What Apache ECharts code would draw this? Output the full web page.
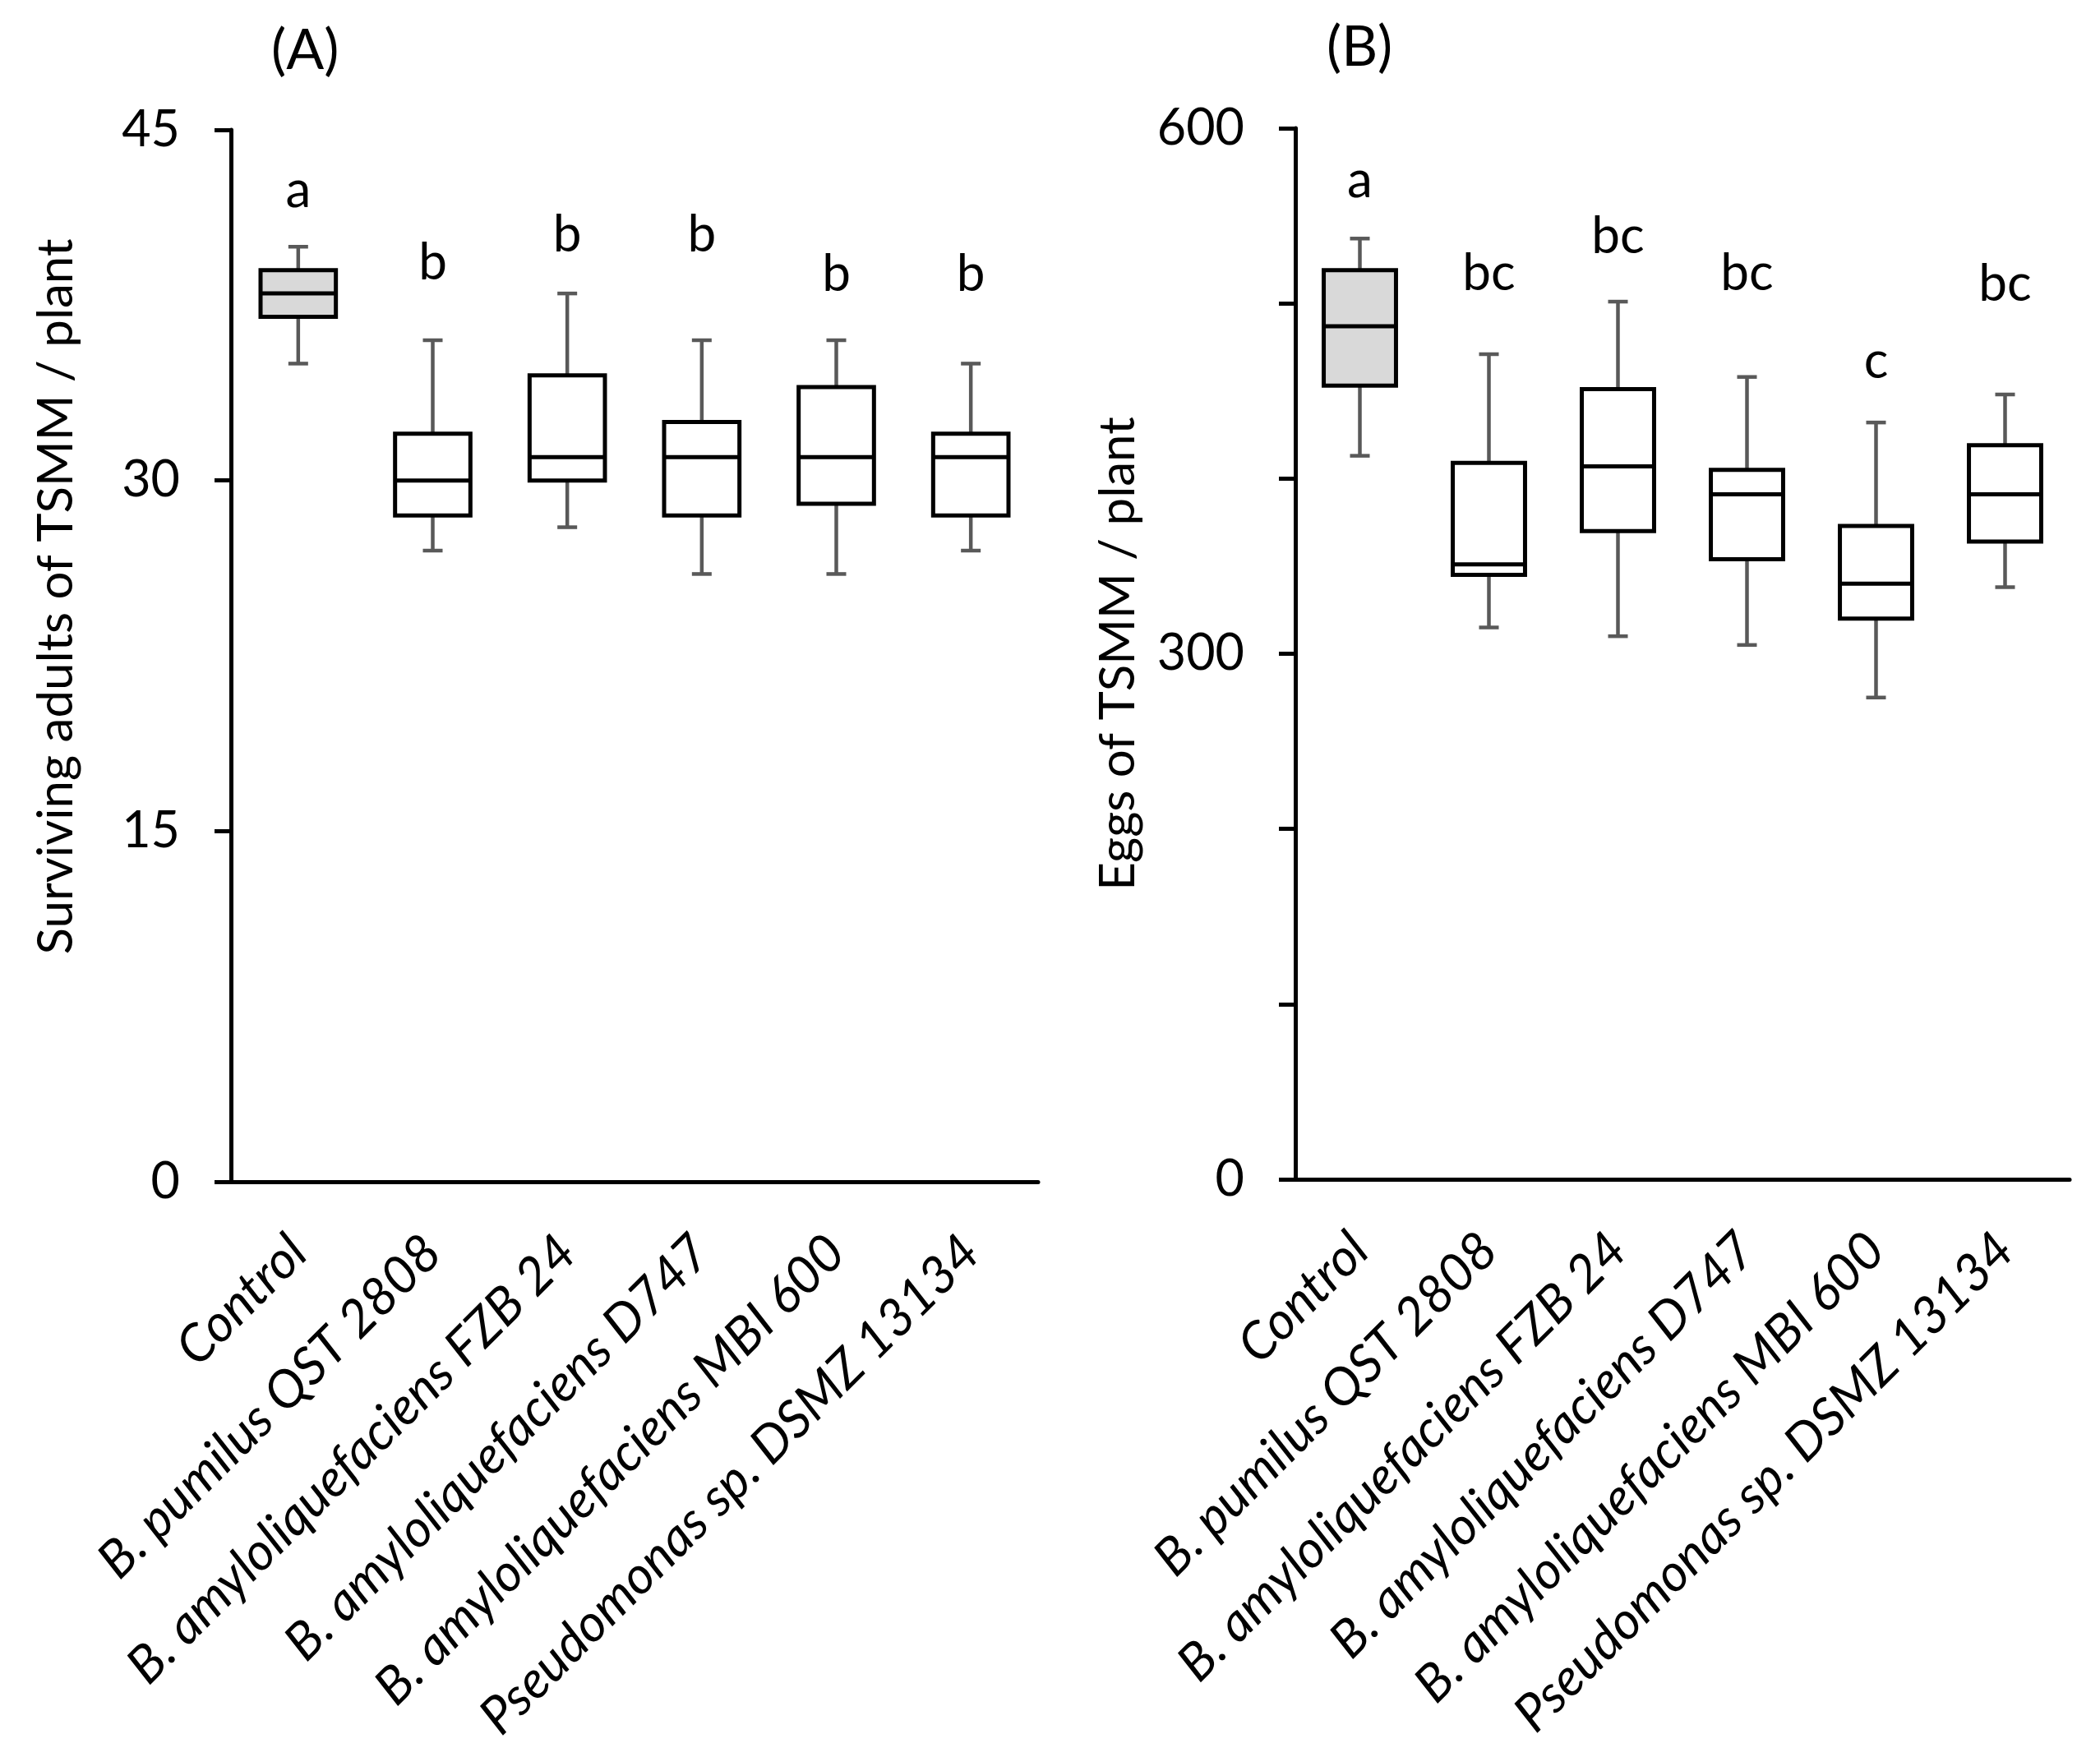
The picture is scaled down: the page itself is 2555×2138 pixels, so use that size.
<!doctype html>
<html lang="en">
<head>
    <meta charset="utf-8">
    <title>TSMM box plots</title>
    <style>
        html, body { margin: 0; padding: 0; background: #fff; }
        #main { width: 2555px; height: 2138px; }
    </style>
</head>
<body>

<div id="main"></div>

<script src="https://cdn.jsdelivr.net/npm/echarts@6/dist/echarts.min.js"></script>

<script>

    var myChart = echarts.init(document.getElementById('main'));

    // treatments (x categories)
    var treatments = [
        'Control',
        'B. pumilus QST 2808',
        'B. amyloliquefaciens FZB 24',
        'B. amyloliquefaciens D747',
        'B. amyloliquefaciens MBI 600',
        'Pseudomonas sp. DSMZ 13134'
    ];

    // (A) surviving adults: [min, q1, median, q3, max]
    var adultsBox = [
        [35, 37, 38, 39, 40],
        [27, 28.5, 30, 32, 36],
        [28, 30, 31, 34.5, 38],
        [26, 28.5, 31, 32.5, 36],
        [26, 29, 31, 34, 36],
        [27, 28.5, 31, 32, 35]
    ];
    var adultsLetters = ['a', 'b', 'b', 'b', 'b', 'b'];
    var adultsLetterY = [42.4, 39.3, 40.5, 40.5, 38.8, 38.8];

    // (B) eggs: [min, q1, median, q3, max]
    var eggsBox = [
        [413, 453, 487, 519, 537],
        [315, 345, 351, 409, 471],
        [310, 370, 407, 451, 501],
        [305, 354, 391, 405, 458],
        [275, 320, 340, 373, 432],
        [338, 364, 391, 419, 448]
    ];
    var eggsLetters = ['a', 'bc', 'bc', 'bc', 'c', 'bc'];
    var eggsLetterY = [570, 517, 538, 517, 467, 511];

    var adultsTicks = [0, 15, 30, 45];
    var eggsTicks = [0, 300, 600];

    var FONT = 'Lato';

    var toBoxData = function(rows) {
        var res = [];
        for (var i = 0; i < rows.length; i++) {
            res.push([i].concat(rows[i]));
        }
        return res;
    };
    var toLetterData = function(letters, ys) {
        var res = [];
        for (var i = 0; i < letters.length; i++) {
            res.push({ name: letters[i], value: [i, ys[i]] });
        }
        return res;
    };

    // box + whiskers drawn through the axes
    var renderBox = function(params, api) {
        var i = api.value(0);
        var lo = api.coord([i, api.value(1)]);
        var q1 = api.coord([i, api.value(2)]);
        var med = api.coord([i, api.value(3)]);
        var q3 = api.coord([i, api.value(4)]);
        var hi = api.coord([i, api.value(5)]);
        var w = api.size([1, 0])[0] * 0.56;
        var cap = 12;
        var cx = med[0];
        var whisk = { stroke: '#595959', lineWidth: 4.5 };
        var dark = { stroke: '#000', lineWidth: 5 };
        return {
            type: 'group',
            children: [
                { type: 'line', shape: { x1: cx, y1: q3[1], x2: cx, y2: hi[1] }, style: whisk },
                { type: 'line', shape: { x1: cx - cap, y1: hi[1], x2: cx + cap, y2: hi[1] }, style: whisk },
                { type: 'line', shape: { x1: cx, y1: q1[1], x2: cx, y2: lo[1] }, style: whisk },
                { type: 'line', shape: { x1: cx - cap, y1: lo[1], x2: cx + cap, y2: lo[1] }, style: whisk },
                {
                    type: 'rect',
                    shape: { x: cx - w / 2, y: q3[1], width: w, height: q1[1] - q3[1] },
                    style: { fill: i === 0 ? '#d9d9d9' : '#fff', stroke: '#000', lineWidth: 5 }
                },
                { type: 'line', shape: { x1: cx - w / 2, y1: med[1], x2: cx + w / 2, y2: med[1] }, style: dark }
            ]
        };
    };

    var xAxisBase = function(gridIndex) {
        return {
            type: 'category',
            gridIndex: gridIndex,
            data: treatments,
            boundaryGap: true,
            axisLine: { lineStyle: { color: '#000', width: 5 } },
            axisTick: { length: 20, lineStyle: { color: '#000', width: 5 } },
            axisLabel: {
                interval: 0,
                rotate: 45,
                align: 'right',
                verticalAlign: 'middle',
                margin: 76,
                color: '#000',
                fontFamily: FONT,
                fontStyle: 'italic',
                fontSize: 63
            },
            splitLine: { show: false }
        };
    };

    var yAxisBase = function(gridIndex, max, interval, ticks, name, gap, shift) {
        return {
            type: 'value',
            gridIndex: gridIndex,
            min: 0,
            max: max,
            interval: interval,
            name: name,
            nameLocation: 'middle',
            nameGap: gap,
            nameTextStyle: {
                color: '#000',
                fontFamily: FONT,
                fontSize: 60,
                padding: [0, 0, 0, shift]
            },
            axisLine: { show: true, lineStyle: { color: '#000', width: 5 } },
            axisTick: { show: true, length: 20, lineStyle: { color: '#000', width: 5 } },
            axisLabel: {
                margin: 62,
                color: '#000',
                fontFamily: FONT,
                fontSize: 61,
                formatter: function(v) {
                    return ticks.indexOf(v) >= 0 ? String(v) : '';
                }
            },
            splitLine: { show: false }
        };
    };

    var letterSeries = function(idx, letters, ys) {
        return {
            type: 'scatter',
            xAxisIndex: idx,
            yAxisIndex: idx,
            symbolSize: 0,
            silent: true,
            itemStyle: { opacity: 1 },
            label: {
                show: true,
                position: 'inside',
                formatter: '{b}',
                color: '#000',
                opacity: 1,
                fontFamily: FONT,
                fontSize: 62
            },
            data: toLetterData(letters, ys)
        };
    };

    var option = {
        backgroundColor: '#fff',
        animation: false,
        graphic: [
            { type: 'text', left: 330, top: 28, style: { text: '(A)', fontFamily: FONT, fontSize: 68, fill: '#000' } },
            { type: 'text', left: 1614, top: 24, style: { text: '(B)', fontFamily: FONT, fontSize: 68, fill: '#000' } }
        ],
        grid: [
            { left: 281, right: 1292, top: 158, bottom: 700 },
            { left: 1576, right: 37, top: 156, bottom: 703 }
        ],
        xAxis: [xAxisBase(0), xAxisBase(1)],
        yAxis: [
            yAxisBase(0, 45, 15, adultsTicks, 'Surviving adults of TSMM / plant', 182, 144),
            yAxisBase(1, 600, 100, eggsTicks, 'Eggs of TSMM / plant', 185, 0)
        ],
        series: [
            {
                type: 'custom',
                xAxisIndex: 0,
                yAxisIndex: 0,
                renderItem: renderBox,
                encode: { x: 0, y: [1, 2, 3, 4, 5] },
                data: toBoxData(adultsBox)
            },
            {
                type: 'custom',
                xAxisIndex: 1,
                yAxisIndex: 1,
                renderItem: renderBox,
                encode: { x: 0, y: [1, 2, 3, 4, 5] },
                data: toBoxData(eggsBox)
            },
            letterSeries(0, adultsLetters, adultsLetterY),
            letterSeries(1, eggsLetters, eggsLetterY)
        ]
    };

    myChart.setOption(option);

</script>
</body>
</html>
